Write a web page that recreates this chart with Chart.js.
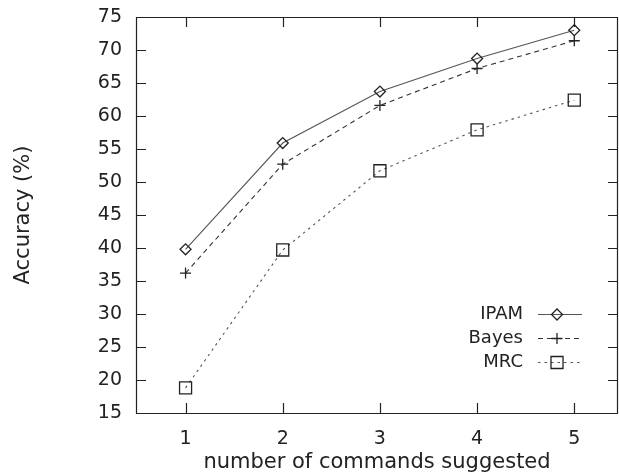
<!DOCTYPE html>
<html>
<head>
<meta charset="utf-8">
<script src="https://cdn.jsdelivr.net/npm/chart.js@4.4.1/dist/chart.umd.min.js"></script>
<style>
  html, body { margin: 0; padding: 0; background: #fff; }
  canvas { display: block; }
</style>
</head>
<body>
<canvas id="c" width="619" height="473"></canvas>
<script>
// ---- data ----
const commandsSuggested = [1, 2, 3, 4, 5];
const ipamAccuracy  = [39.8, 55.9, 63.7, 68.7, 73.0];
const bayesAccuracy = [36.2, 52.7, 61.6, 67.2, 71.4];
const mrcAccuracy   = [18.8, 39.7, 51.7, 57.9, 62.4];
const seriesNames = ['IPAM', 'Bayes', 'MRC'];
const yTickMin = 15, yTickMax = 75, yTickStep = 5;
const xTickLabels = ['1', '2', '3', '4', '5'];

const FONT = '"DejaVu Sans", "Liberation Sans", sans-serif';
const INK = '#222';

function pts(ys) { return commandsSuggested.map((x, i) => ({ x: x, y: ys[i] })); }

// frame with inward ticks on all four sides (gnuplot style)
const framePlugin = {
  id: 'frame',
  afterDatasetsDraw(chart) {
    const { ctx, chartArea: a, scales: { x, y } } = chart;
    const L = 10;
    ctx.save();
    ctx.strokeStyle = INK;
    ctx.lineWidth = 1.2;
    ctx.beginPath();
    ctx.rect(Math.round(a.left) + 0.5, Math.round(a.top) + 0.5,
             Math.round(a.right - a.left) - 1, Math.round(a.bottom - a.top));
    y.ticks.forEach(t => {
      const py = Math.round(y.getPixelForValue(t.value)) + 0.5;
      ctx.moveTo(a.left, py); ctx.lineTo(a.left + L, py);
      ctx.moveTo(a.right, py); ctx.lineTo(a.right - L, py);
    });
    x.ticks.forEach(t => {
      const px = Math.round(x.getPixelForValue(t.value)) + 0.5;
      ctx.moveTo(px, a.bottom); ctx.lineTo(px, a.bottom - L);
      ctx.moveTo(px, a.top); ctx.lineTo(px, a.top + L);
    });
    ctx.stroke();
    ctx.restore();
  }
};

// gnuplot-like key: text right-aligned, then line sample with marker
const keyPlugin = {
  id: 'key',
  afterDraw(chart) {
    const { ctx } = chart;
    const textRight = 523, lineL = 538, lineR = 582, markX = 557;
    const rowY = [314, 338, 362];
    ctx.save();
    chart.data.datasets.forEach((ds, i) => {
      const yy = rowY[i];
      ctx.font = '18px ' + FONT;
      ctx.fillStyle = INK;
      ctx.textAlign = 'right';
      ctx.textBaseline = 'middle';
      ctx.fillText(ds.label, textRight, yy);
      ctx.strokeStyle = ds.borderColor;
      ctx.lineWidth = ds.borderWidth;
      ctx.setLineDash(ds.borderDash || []);
      ctx.beginPath();
      ctx.moveTo(lineL, yy + 0.5); ctx.lineTo(lineR, yy + 0.5);
      ctx.stroke();
      ctx.setLineDash([]);
      ctx.strokeStyle = ds.pointBorderColor;
      ctx.fillStyle = 'rgba(0,0,0,0)';
      ctx.lineWidth = ds.pointBorderWidth;
      Chart.helpers.drawPoint(ctx, {
        pointStyle: ds.pointStyle, radius: ds.pointRadius, borderWidth: ds.pointBorderWidth, rotation: 0
      }, markX, yy + 0.5);
    });
    ctx.restore();
  }
};

const common = {
  borderWidth: 1.1,
  pointBorderColor: INK,
  pointBackgroundColor: 'rgba(0,0,0,0)',
  pointBorderWidth: 1.3,
  fill: false,
  tension: 0
};

new Chart(document.getElementById('c'), {
  type: 'line',
  data: {
    datasets: [
      Object.assign({}, common, { label: seriesNames[0], data: pts(ipamAccuracy),
        borderColor: '#555', borderDash: [], pointStyle: 'rectRot', pointRadius: 5.5 }),
      Object.assign({}, common, { label: seriesNames[1], data: pts(bayesAccuracy),
        borderColor: '#333', borderDash: [5, 4], pointStyle: 'cross', pointRadius: 5.5 }),
      Object.assign({}, common, { label: seriesNames[2], data: pts(mrcAccuracy),
        borderColor: '#555', borderDash: [2.5, 4], pointStyle: 'rect', pointRadius: 8.5 })
    ]
  },
  options: {
    responsive: false,
    animation: false,
    layout: { autoPadding: false, padding: { top: 17, right: 1, left: 0, bottom: 0 } },
    plugins: { legend: { display: false }, tooltip: { enabled: false } },
    scales: {
      x: {
        type: 'linear',
        min: 0.49, max: 5.45,
        afterBuildTicks(s) { s.ticks = commandsSuggested.map(v => ({ value: v })); },
        afterFit(s) { s.height = 60; s.paddingLeft = 0; s.paddingRight = 0; },
        grid: { display: false, drawTicks: false },
        border: { display: false },
        ticks: {
          padding: 15, color: INK, font: { family: FONT, size: 19 },
          callback: (v, i) => xTickLabels[i], maxRotation: 0, autoSkip: false
        },
        title: {
          display: true, text: 'number of commands suggested', color: INK,
          font: { family: FONT, size: 21 }, padding: { top: 0, bottom: -2 }
        }
      },
      y: {
        min: yTickMin, max: yTickMax,
        afterFit(s) { s.width = 136; s.paddingTop = 0; s.paddingBottom = 0; },
        grid: { display: false, drawTicks: false },
        border: { display: false },
        ticks: { stepSize: yTickStep, padding: 14, color: INK, font: { family: FONT, size: 19 } },
        title: {
          display: true, text: 'Accuracy (%)', color: INK,
          font: { family: FONT, size: 21 }, padding: { top: 11, bottom: 0 }
        }
      }
    }
  },
  plugins: [framePlugin, keyPlugin]
});
</script>
</body>
</html>
